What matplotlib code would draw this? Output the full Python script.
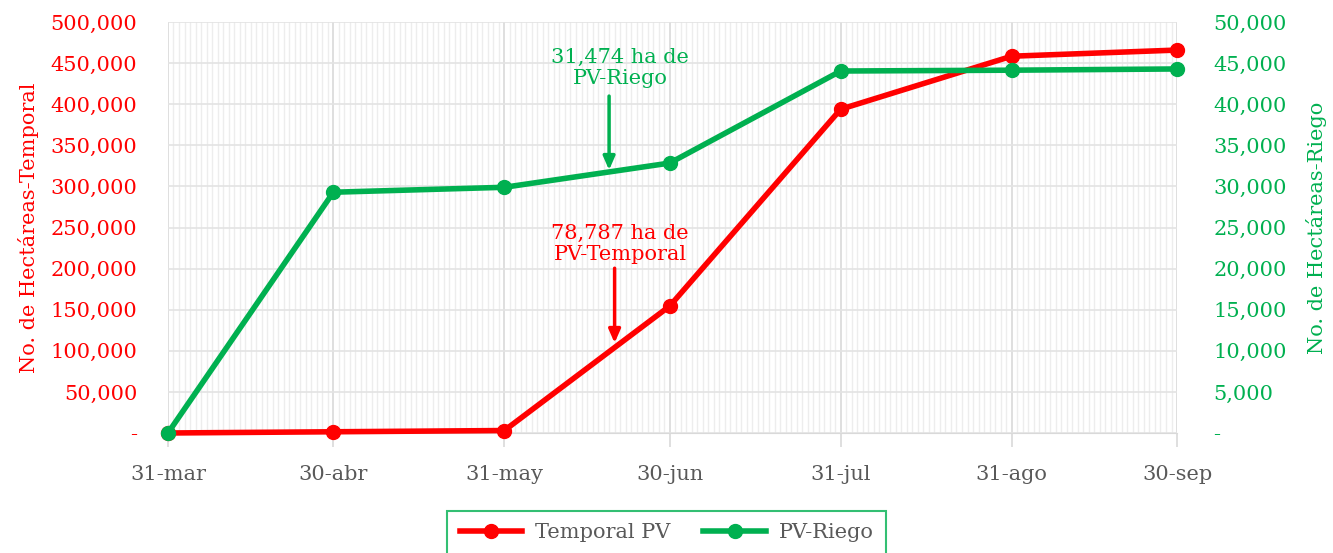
import datetime as dt
import matplotlib
matplotlib.use("Agg")
import matplotlib.pyplot as plt
import matplotlib.dates as mdates
from matplotlib.ticker import FuncFormatter, MultipleLocator

# Data
fechas = [dt.date(2023, 3, 31), dt.date(2023, 4, 30), dt.date(2023, 5, 31),
          dt.date(2023, 6, 30), dt.date(2023, 7, 31), dt.date(2023, 8, 31),
          dt.date(2023, 9, 30)]
etiquetas = ["31-mar", "30-abr", "31-may", "30-jun", "31-jul", "31-ago", "30-sep"]
temporal = [0, 1500, 3000, 154500, 394000, 458500, 466000]
riego = [0, 29300, 29900, 32850, 44050, 44150, 44300]

RED = "#FF0000"
GREEN = "#00B050"
GRAY = "#595959"

plt.rcParams["font.family"] = ["DejaVu Serif"]

fig = plt.figure(figsize=(13.33, 5.53), dpi=100)
ax = fig.add_axes([0.126, 0.217, 0.757, 0.743])
ax2 = ax.twinx()

l1, = ax.plot(fechas, temporal, color=RED, lw=4, marker="o", ms=10,
              label="Temporal PV", clip_on=False, zorder=4)
l2, = ax2.plot(fechas, riego, color=GREEN, lw=4, marker="o", ms=10,
               label="PV-Riego", clip_on=False, zorder=4)

ax.set_xlim(fechas[0], fechas[-1])
ax.set_ylim(0, 500000)
ax2.set_ylim(0, 50000)

# grid
ax.set_xticks(fechas)
ax.set_xticklabels(etiquetas)
ax.xaxis.set_minor_locator(mdates.DayLocator())
ax.yaxis.set_major_locator(MultipleLocator(50000))
ax2.yaxis.set_major_locator(MultipleLocator(5000))
ax.grid(which="major", axis="x", color="#D9D9D9", lw=1.2)
ax.grid(which="minor", axis="x", color="#EDEDED", lw=1)
ax.grid(which="major", axis="y", color="#E3E3E3", lw=1.2)
ax.set_axisbelow(True)

fmt = FuncFormatter(lambda v, p: "-" if v == 0 else f"{v:,.0f}")
ax.yaxis.set_major_formatter(fmt)
ax2.yaxis.set_major_formatter(fmt)

for a in (ax, ax2):
    for s in a.spines.values():
        s.set_visible(False)
ax.spines["bottom"].set_visible(True)
ax.spines["bottom"].set_color("#D9D9D9")

ax.tick_params(axis="x", which="major", colors="#D9D9D9", length=10, width=1.2,
               labelcolor=GRAY, labelsize=15, pad=13)
ax.tick_params(axis="x", which="minor", length=0)
ax.tick_params(axis="y", length=0, labelcolor=RED, labelsize=15, pad=22)
ax2.tick_params(axis="y", length=0, labelcolor=GREEN, labelsize=15, pad=26)

ax.set_ylabel("No. de Hectáreas-Temporal", color=RED, fontsize=15, labelpad=8)
ax2.set_ylabel("No. de Hectáreas-Riego", color=GREEN, fontsize=15,
               rotation=90, labelpad=14)

# annotations
arrow_style = dict(arrowstyle="-|>,head_width=0.35,head_length=0.8",
                   lw=2.5, shrinkA=0, shrinkB=0)
ax2.annotate("", xy=(dt.date(2023, 6, 19), 32000),
             xytext=(dt.date(2023, 6, 19), 41000),
             arrowprops=dict(color=GREEN, **arrow_style))
ax2.text(dt.date(2023, 6, 21), 42000, "31,474 ha de\nPV-Riego", color=GREEN,
         fontsize=15, ha="center", va="bottom", linespacing=1.1)
ax.annotate("", xy=(dt.date(2023, 6, 20), 109500),
            xytext=(dt.date(2023, 6, 20), 200500),
            arrowprops=dict(color=RED, **arrow_style))
ax.text(dt.date(2023, 6, 21), 206000, "78,787 ha de\nPV-Temporal", color=RED,
        fontsize=15, ha="center", va="bottom", linespacing=1.1)

leg = fig.legend([l1, l2], ["Temporal PV", "PV-Riego"], loc="upper center",
                 bbox_to_anchor=(0.5, 0.095), ncol=2, frameon=True, fontsize=15,
                 fancybox=False, handlelength=3, columnspacing=1.6,
                 handletextpad=0.6, borderpad=0.6)
leg.get_frame().set_edgecolor(GREEN)
leg.get_frame().set_linewidth(1.5)
for t in leg.get_texts():
    t.set_color(GRAY)

fig.savefig("out.png", dpi=100)
